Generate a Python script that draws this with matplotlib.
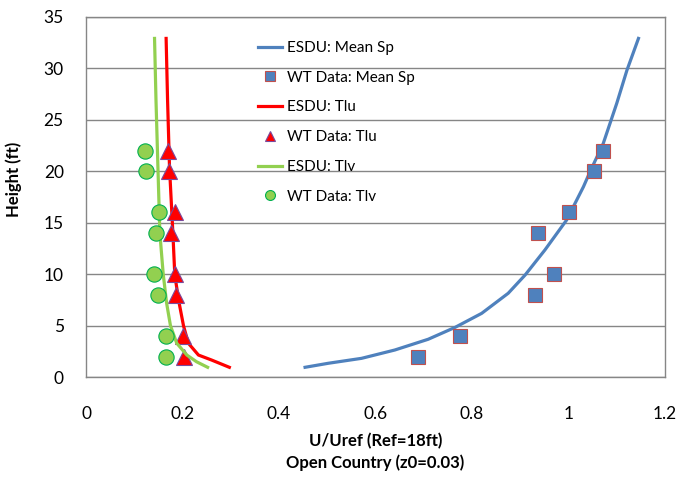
import matplotlib
matplotlib.use('Agg')
import matplotlib.pyplot as plt
import numpy as np

plt.rcParams['font.family'] = ['Lato', 'DejaVu Sans']

# ESDU curves (x = U/Uref or intensity, y = height ft)
esdu_sp_x = [0.454, 0.502, 0.571, 0.640, 0.709, 0.765, 0.820, 0.875, 0.910, 0.951,
             0.996, 1.031, 1.045, 1.072, 1.086, 1.100, 1.121, 1.145]
esdu_sp_y = [0.96, 1.35, 1.83, 2.64, 3.68, 4.84, 6.2, 8.15, 9.92, 12.35,
             15.26, 18.5, 20.0, 22.7, 24.65, 26.6, 29.8, 32.9]

esdu_tlu_x = [0.297, 0.260, 0.233, 0.212, 0.202, 0.193, 0.184, 0.180, 0.173, 0.169, 0.166]
esdu_tlu_y = [0.96, 1.67, 2.15, 3.3, 5.0, 7.2, 9.9, 14.0, 20.4, 26.9, 32.9]

esdu_tlv_x = [0.252, 0.229, 0.209, 0.188, 0.175, 0.167, 0.160, 0.153, 0.149, 0.145, 0.142]
esdu_tlv_y = [0.96, 1.5, 2.15, 3.3, 5.0, 7.2, 10.0, 14.0, 20.4, 26.9, 32.9]

# wind tunnel data
wt_height = [2, 4, 8, 10, 14, 16, 20, 22]
wt_sp = [0.688, 0.775, 0.930, 0.970, 0.937, 1.000, 1.053, 1.071]
wt_tlu = [0.204, 0.200, 0.186, 0.184, 0.176, 0.184, 0.173, 0.169]
wt_tlv = [0.166, 0.166, 0.149, 0.140, 0.146, 0.151, 0.125, 0.123]

fig = plt.figure(figsize=(6.79, 4.8), dpi=100)
ax = fig.add_axes([0.1267, 0.2142, 0.8527, 0.7508])

grey = '#868686'
ax.set_axisbelow(True)
ax.grid(axis='y', color=grey, linewidth=1)

ax.plot(esdu_sp_x, esdu_sp_y, color='#4F81BD', lw=2.3, label='ESDU: Mean Sp', solid_joinstyle='round')
ax.plot(wt_sp, wt_height, ls='none', marker='s', ms=10.5, mfc='#4F81BD', mec='#C0504D', mew=0.8,
        label='WT Data: Mean Sp')
ax.plot(esdu_tlu_x, esdu_tlu_y, color='#FF0000', lw=2.3, label='ESDU: Tlu', solid_joinstyle='round')
ax.plot(wt_tlu, wt_height, ls='none', marker='^', ms=11, mfc='#FF0000', mec='#7A4A9C', mew=0.8,
        label='WT Data: Tlu')
ax.plot(esdu_tlv_x, esdu_tlv_y, color='#92D050', lw=2.3, label='ESDU: Tlv', solid_joinstyle='round')
ax.plot(wt_tlv, wt_height, ls='none', marker='o', ms=11, mfc='#92D050', mec='#00B050', mew=0.8,
        label='WT Data: Tlv')

ax.set_xlim(0, 1.2)
ax.set_ylim(0, 35)
ax.set_xticks(np.arange(0, 1.21, 0.2))
ax.set_xticklabels(['0', '0.2', '0.4', '0.6', '0.8', '1', '1.2'])
ax.set_yticks(range(0, 36, 5))
ax.tick_params(axis='x', length=0, pad=21, labelsize=12.5)
ax.tick_params(axis='y', length=0, pad=16, labelsize=12.5)
for s in ax.spines.values():
    s.set_color(grey)
    s.set_linewidth(1)

ax.set_xlabel('U/Uref (Ref=18ft)\nOpen Country (z0=0.03)', fontsize=12, fontweight='bold',
              linespacing=1.35)
ax.xaxis.set_label_coords(0.5, -0.155, transform=ax.transAxes)
ax.xaxis.label.set_va('top')
ax.set_ylabel('Height (ft)', fontsize=12, fontweight='bold')
ax.yaxis.set_label_coords(-0.11, 0.55)

ax.legend(loc='upper left', bbox_to_anchor=(258 / 679, 1 - 41 / 480), bbox_transform=fig.transFigure,
          frameon=False, fontsize=11, handlelength=1.6, handletextpad=0.3, labelspacing=1.03,
          borderpad=0, borderaxespad=0, markerscale=0.65)

fig.savefig('out.png', dpi=100)
